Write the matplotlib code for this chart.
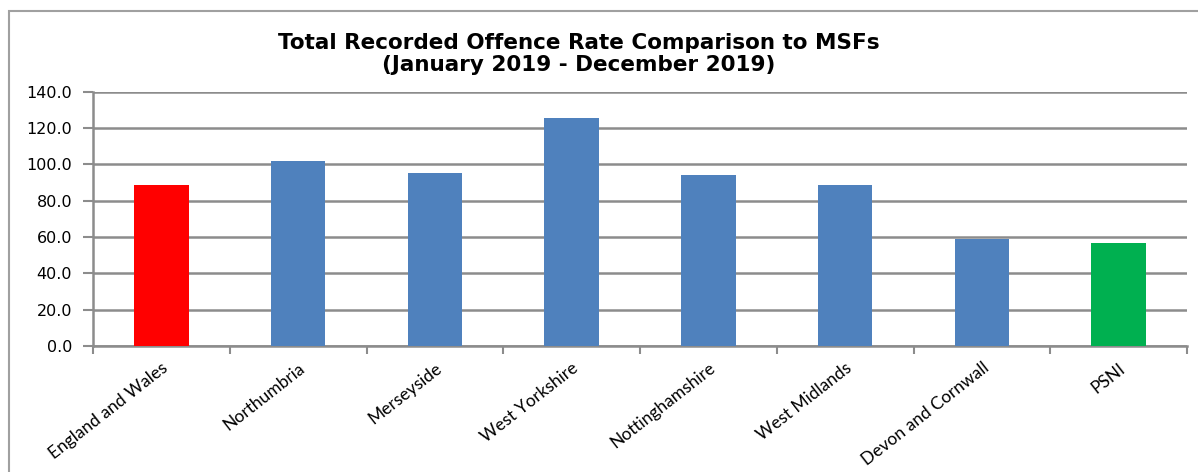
import matplotlib.pyplot as plt
import matplotlib.patches as patches

# data
forces = ['England and Wales', 'Northumbria', 'Merseyside', 'West Yorkshire',
          'Nottinghamshire', 'West Midlands', 'Devon and Cornwall', 'PSNI']
rates = [88.9, 102.0, 95.4, 125.7, 94.4, 88.9, 58.7, 56.5]
bar_colors = ['#FF0000', '#4F81BD', '#4F81BD', '#4F81BD',
              '#4F81BD', '#4F81BD', '#4F81BD', '#00B050']
yticks = [0, 20, 40, 60, 80, 100, 120, 140]

grey = '#8C8C8C'

fig = plt.figure(figsize=(11.98, 4.72), dpi=100)
ax = fig.add_axes([93/1198, 1 - 346/472, (1187 - 93)/1198, (346 - 91.7)/472])

# outer chart frame
fig.patches.append(patches.Rectangle((9/1198, -0.05), 1.2, 1 - 11/472 + 0.05,
                                     transform=fig.transFigure, fill=False,
                                     edgecolor='#A0A0A0', linewidth=1.5))

x = list(range(len(forces)))
ax.bar(x, rates, width=0.4, color=bar_colors, zorder=3)

ax.set_xlim(-0.5, len(forces) - 0.5)
ax.set_ylim(0, 140)
ax.set_yticks(yticks)
ax.set_yticklabels([f'{v:.1f}' for v in yticks], fontsize=11.5, family='DejaVu Sans')
ax.yaxis.grid(True, color=grey, linewidth=1.8, zorder=0)

ax.set_xticks(x)
ax.set_xticklabels(forces, rotation=38, ha='right', rotation_mode='anchor',
                   fontsize=12.5, family='Lato')
ax.tick_params(axis='x', length=0, pad=10)
ax.set_xticks([i - 0.5 for i in range(len(forces) + 1)], minor=True)
ax.tick_params(axis='x', which='minor', length=6, color=grey, width=1.5)
ax.tick_params(axis='y', length=7, color=grey, width=1.5, pad=8)

for s in ['top', 'right']:
    ax.spines[s].set_visible(False)
for s in ['left', 'bottom']:
    ax.spines[s].set_color(grey)
    ax.spines[s].set_linewidth(1.8)

fig.text(579/1198, 1 - 54/472,
         'Total Recorded Offence Rate Comparison to MSFs\n(January 2019 - December 2019)',
         ha='center', va='center', fontsize=15.5, fontweight='bold',
         family='DejaVu Sans', linespacing=1.15)

fig.savefig('out.png', dpi=100)
